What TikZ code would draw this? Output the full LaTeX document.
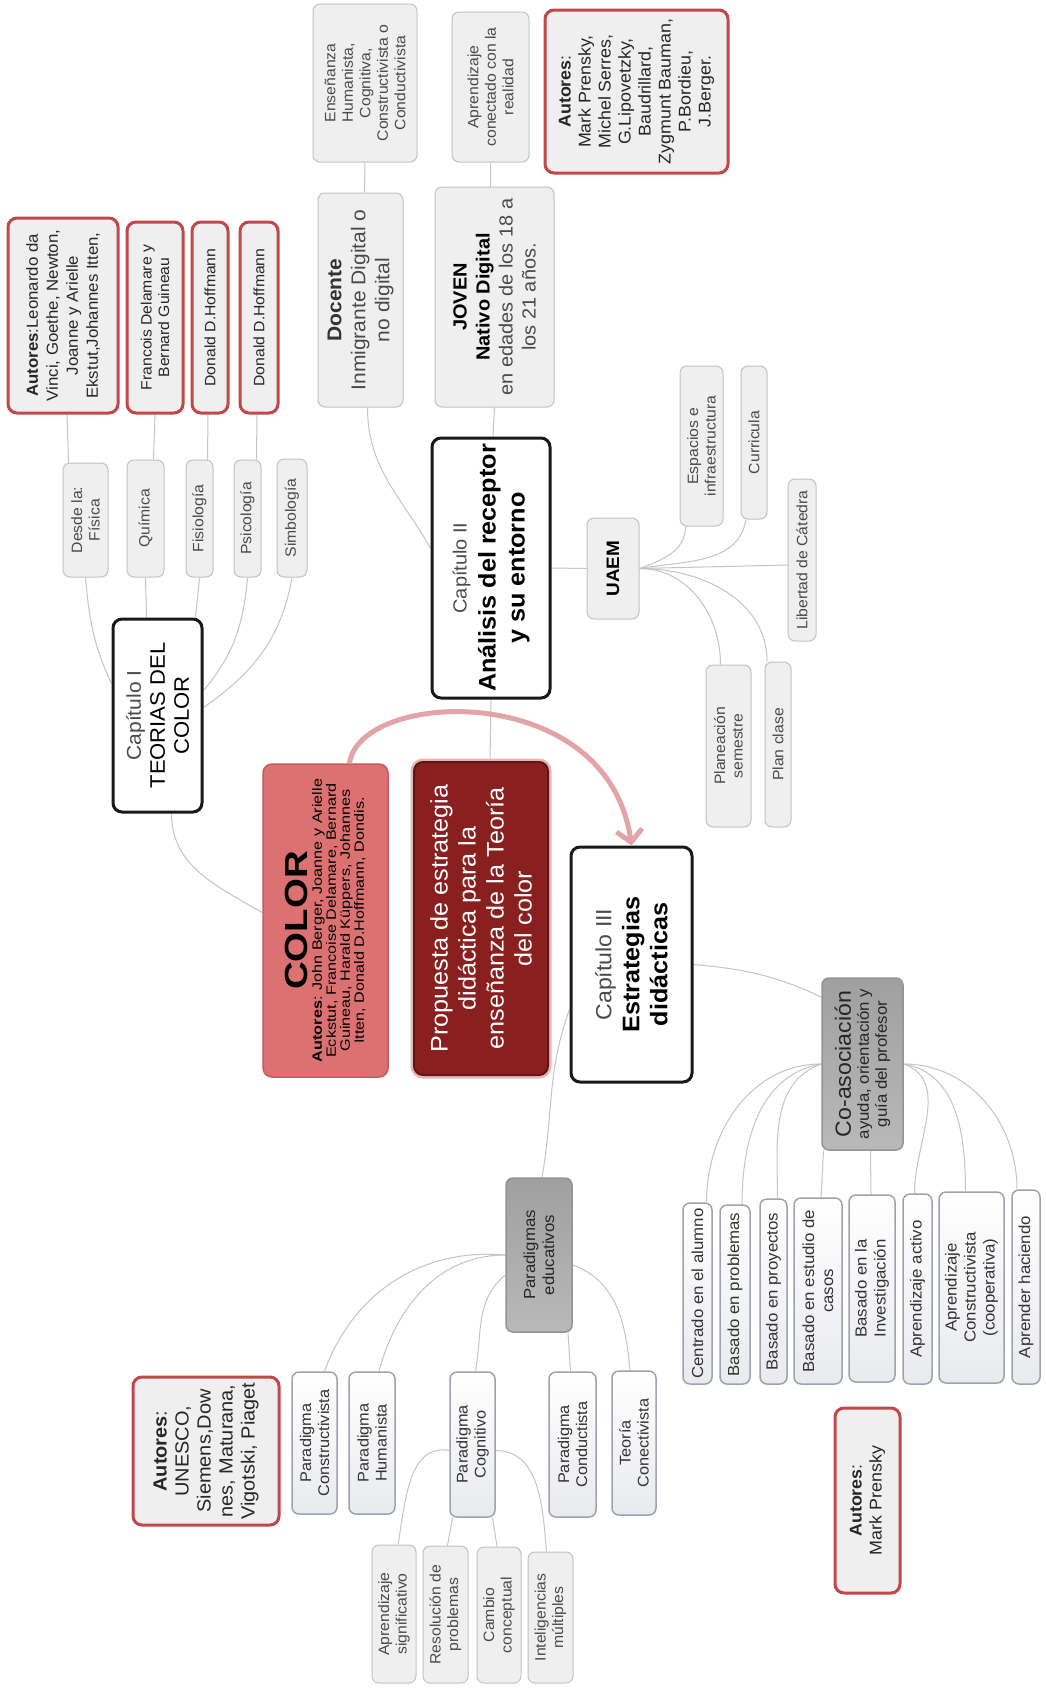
\documentclass[tikz,border=0pt]{standalone}
\usepackage{fontspec}
\setmainfont{Liberation Sans}[FakeStretch=1.05]
\newfontfamily\estirada{Liberation Sans}[FakeStretch=1.2]
\usetikzlibrary{arrows.meta,backgrounds}

\definecolor{ramagris}{HTML}{C4C4C4}
\definecolor{hojagris}{HTML}{EFEFEF}
\definecolor{bordegris}{HTML}{C2C2C2}
\definecolor{textogris}{HTML}{4A4A4A}
\definecolor{rojoautor}{HTML}{C0474A}
\definecolor{rosacolor}{HTML}{DC7172}
\definecolor{rosaborde}{HTML}{C85A5A}
\definecolor{vino}{HTML}{8A1F1F}
\definecolor{flecha}{HTML}{E2A4A6}
\definecolor{bordeazul}{HTML}{9DA2AD}
\definecolor{blancagris}{HTML}{E9EAEE}

\tikzset{sz/.style 2 args={minimum height=#1,minimum width=#2}}

\begin{document}
\begin{tikzpicture}[x=1pt,y=-1pt,
    every node/.style={rotate=90,align=center,inner sep=2pt,text=textogris,font=\fontsize{15}{17.5}\selectfont},
    hoja/.style={draw=bordegris,fill=hojagris,rounded corners=7pt,line width=1pt},
    autor/.style={draw=rojoautor,fill=hojagris,rounded corners=9pt,line width=3pt,text=black!85},
    capitulo/.style={draw=black!90,fill=white,rounded corners=9pt,line width=3pt,text=black},
    blanca/.style={draw=bordeazul,top color=white,bottom color=blancagris,rounded corners=7pt,line width=1.5pt,text=black!80,font=\fontsize{16}{19}\selectfont},
    grupo/.style={draw=gray!85,top color=gray!75,bottom color=gray!55,rounded corners=7pt,line width=1.5pt,text=black!85},
    rosa/.style={draw=rosaborde,fill=rosacolor,rounded corners=9pt,line width=1.5pt,text=black},
    nucleo/.style={draw=vino!70!black,fill=vino,rounded corners=9pt,line width=2pt,text=white,preaction={draw=flecha!80,line width=7pt}},
    arco/.style={draw=flecha,line width=5pt,-{Straight Barb[length=12pt,width=26pt]}},
    every edge/.style={draw=ramagris,line width=1pt},
  ]
\useasboundingbox (0,0) rectangle (1046,1700);

% Capitulo I
\node[capitulo,sz={89pt}{193pt},font=\fontsize{21}{24}\selectfont] (cap1) at (157.5,715.5) {{\fontsize{20}{24}\selectfont\color{textogris}Capítulo I}\\ TEORIAS DEL\\ COLOR};
\node[hoja,sz={45pt}{114pt}] (fisica)     at (85.5,520)  {Desde la:\\ Física};
\node[hoja,sz={37pt}{117pt}] (quimica)    at (145.5,518.5) {Química};
\node[hoja,sz={27pt}{117pt}] (fisiologia) at (199.5,518.5) {Fisiología};
\node[hoja,sz={27pt}{117pt}] (psicologia) at (247.5,518.5) {Psicología};
\node[hoja,sz={30pt}{118pt}] (simbologia) at (292,518) {Simbología};
\node[autor,sz={110pt}{195pt},font=\fontsize{16}{20}\selectfont] (autLeo) at (63,315.5) {\textbf{Autores}:Leonardo da\\ Vinci, Goethe, Newton,\\ Joanne y Arielle\\ Ekstut,Johannes Itten,};
\node[autor,sz={56pt}{191pt}] (autFran) at (155,317.5) {Francois Delamare y\\ Bernard Guineau};
\node[autor,sz={36pt}{191pt}] (autDon1) at (210,317.5) {Donald D.Hoffmann};
\node[autor,sz={38pt}{191pt}] (autDon2) at (259,317.5) {Donald D.Hoffmann};

% Capitulo II
\node[capitulo,sz={118pt}{260pt},font=\fontsize{24}{29}\selectfont\bfseries] (cap2) at (491,568) {{\mdseries\fontsize{19}{22}\selectfont\color{textogris}Capítulo II}\\ Análisis del receptor\\ y su entorno};
\node[hoja,sz={85pt}{214pt},font=\fontsize{20}{24}\selectfont] (docente) at (360.5,300) {\textbf{\color{black!80}Docente}\\ Inmigrante Digital o\\ no digital};
\node[hoja,sz={104pt}{158pt}] (ensenanza) at (365,83) {Enseñanza\\ Humanista,\\ Cognitiva,\\ Constructivista o\\ Conductivista};
\node[hoja,sz={119pt}{220pt},font=\fontsize{19}{23}\selectfont] (joven) at (494.5,297) {\textbf{\color{black}JOVEN}\\ \textbf{\color{black}Nativo Digital}\\ en edades de los 18 a\\ los 21 años.};
\node[hoja,sz={77pt}{150pt}] (aprendReal) at (490.5,87) {Aprendizaje\\ conectado con la\\ realidad};
\node[autor,sz={183pt}{163pt},font=\fontsize{17}{20}\selectfont] (autMark) at (636.5,91.5) {\textbf{Autores}:\\ Mark Prensky,\\ Michel Serres,\\ G.Lipovetzky,\\ Baudrillard,\\ Zygmunt Bauman,\\ P.Bordieu,\\ J.Berger.};
\node[hoja,sz={52pt}{101pt},font=\fontsize{18}{21}\selectfont] (uaem) at (613,568.5) {\textbf{\color{black}UAEM}};
\node[hoja,sz={43pt}{160pt}] (espacios)   at (701.5,446) {Espacios e\\ infraestructura};
\node[hoja,sz={26pt}{153pt}] (curricula)  at (754,442.5) {Curricula};
\node[hoja,sz={28pt}{162pt}] (libertad)   at (802,560) {Libertad de Cátedra};
\node[hoja,sz={45pt}{162pt}] (planeacion) at (728.5,746) {Planeación\\ semestre};
\node[hoja,sz={26pt}{165pt}] (planclase)  at (778,744.5) {Plan clase};

% centro
\node[rosa,sz={125pt}{313pt},font=\estirada\fontsize{13.5}{14}\selectfont] (color) at (325.5,920.5) {{\fontsize{32}{34}\selectfont\bfseries COLOR}\\ \textbf{Autores}: John Berger, Joanne y Arielle\\ Eckstut, Francoise Delamare, Bernard\\ Guineau, Harald Küppers, Johannes\\ Itten, Donald D.Hoffmann, Dondis.};
\node[nucleo,sz={134pt}{313pt},font=\fontsize{24}{28}\selectfont] (propuesta) at (481,918.5) {Propuesta de estrategia\\ didáctica para la\\ enseñanza de la Teoría\\ del color};

% Capitulo III
\node[capitulo,sz={121pt}{235pt},font=\fontsize{24}{28}\selectfont\bfseries] (cap3) at (631.5,964.5) {{\mdseries\fontsize{22}{26}\selectfont\color{textogris}Capítulo III}\\ Estrategias\\ didácticas};
\node[grupo,sz={81pt}{172pt},font=\fontsize{16}{18}\selectfont] (coasoc) at (862.5,1064) {{\fontsize{22}{25}\selectfont Co-asociación}\\ ayuda, orientación y\\ guía del profesor};
\node[blanca,sz={29pt}{181pt}] (centrado)    at (697.5,1293.5) {Centrado en el alumno};
\node[blanca,sz={30pt}{179pt}] (problemas)   at (735,1294.5) {Basado en problemas};
\node[blanca,sz={27pt}{185pt}] (proyectos)   at (773.5,1291.5) {Basado en proyectos};
\node[blanca,sz={48pt}{186pt}] (casos)       at (818,1291) {Basado en estudio de\\ casos};
\node[blanca,sz={46pt}{187pt}] (investig)    at (872,1288.5) {Basado en la\\ Investigación};
\node[blanca,sz={29pt}{190pt}] (activo)      at (917.5,1289) {Aprendizaje activo};
\node[blanca,sz={65pt}{191pt}] (cooperativa) at (971.5,1287.5) {Aprendizaje\\ Constructivista\\ (cooperativa)};
\node[blanca,sz={28pt}{194pt}] (haciendo)    at (1026,1287) {Aprender haciendo};
\node[autor,sz={65pt}{185pt},font=\fontsize{17}{20}\selectfont] (autMark2) at (867.5,1500.5) {\textbf{Autores}:\\ Mark Prensky};

\node[grupo,sz={66pt}{154pt},font=\fontsize{16}{19}\selectfont] (paradigmas) at (539,1255) {Paradigmas\\ educativos};
\node[autor,sz={146pt}{148pt},font=\fontsize{19}{22}\selectfont] (autUnesco) at (206,1451) {\textbf{Autores}:\\ UNESCO,\\ Siemens,Dow\\ nes, Maturana,\\ Vigotski, Piaget};
\node[blanca,sz={45pt}{142pt},font=\fontsize{15.5}{18}\selectfont] (pConstr)  at (314.5,1443)  {Paradigma\\ Constructivista};
\node[blanca,sz={46pt}{142pt},font=\fontsize{15.5}{18}\selectfont] (pHuman)   at (372,1443)    {Paradigma\\ Humanista};
\node[blanca,sz={45pt}{145pt},font=\fontsize{15.5}{18}\selectfont] (pCogn)    at (472.5,1444.5) {Paradigma\\ Cognitivo};
\node[blanca,sz={47pt}{145pt},font=\fontsize{15.5}{18}\selectfont] (pConduct) at (572.5,1444.5) {Paradigma\\ Conductista};
\node[blanca,sz={44pt}{144pt},font=\fontsize{15.5}{18}\selectfont] (teoria)   at (634,1443)    {Teoría\\ Conectivista};
\node[hoja,sz={44pt}{138pt}] (aSignif) at (394,1614)    {Aprendizaje\\ significativo};
\node[hoja,sz={45pt}{137pt}] (resol)   at (445.5,1614.5) {Resolución de\\ problemas};
\node[hoja,sz={44pt}{136pt}] (cambio)  at (499,1615)    {Cambio\\ conceptual};
\node[hoja,sz={45pt}{131pt}] (intelig) at (550.5,1617.5) {Inteligencias\\ múltiples};

\begin{scope}[on background layer]
\fill[white] (0,0) rectangle (1046,1700);
\path
  ([xshift=-17pt]fisica.east)   edge ([xshift=4pt]autLeo.west)
  ([xshift=8pt]quimica.east)    edge (autFran.west)
  ([xshift=8pt]fisiologia.east) edge ([xshift=-2pt]autDon1.west)
  ([xshift=9pt]psicologia.east) edge ([xshift=-2pt]autDon2.west)
  (fisica.west)     edge[out=-85,in=115]  ([yshift=32pt]cap1.north)
  (quimica.west)    edge                  ([xshift=-11pt]cap1.east)
  (fisiologia.west) edge                  ([xshift=38pt]cap1.east)
  (psicologia.west) edge[out=-95,in=50]   ([yshift=25pt]cap1.south)
  (simbologia.west) edge[out=-100,in=35]  ([yshift=8pt]cap1.south)
  ([xshift=14pt]cap1.west) edge[out=-90,in=150] ([yshift=8pt]color.north)
  ([xshift=7pt]docente.west) edge[out=-90,in=120] ([yshift=20pt]cap2.north)
  (ensenanza.west)  edge ([xshift=4pt]docente.east)
  (aprendReal.west) edge ([xshift=-4pt]joven.east)
  (joven.west)      edge ([xshift=2pt]cap2.east)
  (cap2.south)      edge (uaem.north)
  (cap2.west)       edge ([xshift=9pt]propuesta.east)
  (uaem.south) edge[out=20,in=-90]  ([xshift=-16pt]espacios.west)
  (uaem.south) edge[out=10,in=-100] ([xshift=-8pt]curricula.west)
  (uaem.south) edge                 ([yshift=-5pt]libertad.north)
  (uaem.south) edge[out=0,in=90]    ([xshift=-8pt]planeacion.east)
  (uaem.south) edge[out=0,in=90]    ([xshift=-11pt]planclase.east)
  (cap3.south) edge[out=-5,in=155]  ([yshift=67pt]coasoc.north)
  ([yshift=-45pt]cap3.north) edge[out=250,in=80] ([xshift=3pt]paradigmas.east)
  (coasoc.north) edge[out=180,in=90] ([xshift=9pt]centrado.east)
  (coasoc.north) edge[out=190,in=90] ([xshift=7pt]problemas.east)
  (coasoc.north) edge[out=200,in=90] ([xshift=4pt]proyectos.east)
  ([xshift=-39pt]coasoc.west) edge ([xshift=3pt]casos.east)
  ([xshift=8pt]coasoc.west)   edge ([xshift=-1pt]investig.east)
  (coasoc.south) edge[out=-20,in=90] ([xshift=-3pt]activo.east)
  (coasoc.south) edge[out=-10,in=90] ([xshift=-6pt]cooperativa.east)
  (coasoc.south) edge[out=0,in=90]   ([xshift=-9pt]haciendo.east)
  (paradigmas.north) edge[out=175,in=70] ([xshift=10pt]pConstr.east)
  (paradigmas.north) edge[out=180,in=75] ([xshift=7pt]pHuman.east)
  ([yshift=-20pt]paradigmas.north) edge[out=220,in=80] ([xshift=3pt]pCogn.east)
  ([xshift=29pt]paradigmas.west)   edge ([xshift=-2pt]pConduct.east)
  ([yshift=-10pt]paradigmas.south) edge[out=-20,in=95] ([xshift=-4pt]teoria.east)
  ([yshift=-6pt]pCogn.north) edge[out=170,in=80] ([xshift=4pt]aSignif.east)
  ([xshift=-20pt]pCogn.west) edge ([xshift=2pt]resol.east)
  ([xshift=20pt]pCogn.west)  edge ([xshift=-2pt]cambio.east)
  ([yshift=-6pt]pCogn.south) edge[out=0,in=95] ([xshift=-4pt]intelig.east)
; %-ramas-%
\end{scope}

\draw[arco] ([xshift=24pt]color.east) .. controls +(82:75pt) and +(98:168pt) .. (cap3.east);
\end{tikzpicture}
\end{document}
